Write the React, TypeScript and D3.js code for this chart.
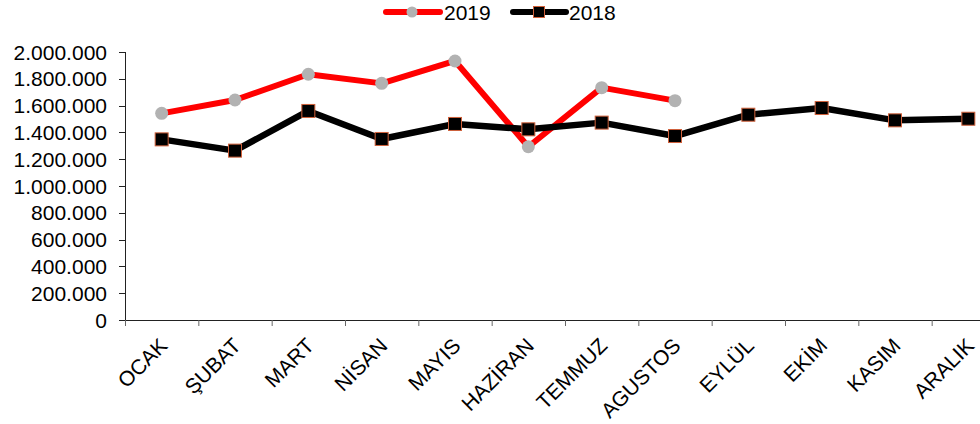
import * as d3 from 'd3';

const months = ["OCAK", "ŞUBAT", "MART", "NİSAN", "MAYIS", "HAZİRAN", "TEMMUZ", "AGUSTOS", "EYLÜL", "EKİM", "KASIM", "ARALIK"];
const values2019 = [1542000, 1642000, 1834000, 1766000, 1933000, 1293000, 1734000, 1637000];
const values2018 = [1348000, 1264000, 1560000, 1351000, 1463000, 1423000, 1473000, 1373000, 1532000, 1582000, 1490000, 1502000];
const yTicks = [0, 200000, 400000, 600000, 800000, 1000000, 1200000, 1400000, 1600000, 1800000, 2000000];

const W = 980;
const H = 424;
const font = "'Liberation Sans', Arial, sans-serif";

const App = () => {
    const x = d3.scaleBand<string>().domain(months).range([125, 1005]);
    const y = d3.scaleLinear().domain([0, 2000000]).range([320, 52]);
    const fmt = (v: number) => d3.format(",")(v).replace(/,/g, ".");

    const cx = (i: number) => (x(months[i]) as number) + x.bandwidth() / 2;

    const line = d3.line<number>()
        .x((_, i) => cx(i))
        .y(d => y(d));

    return (
        <svg width={W} height={H} style={{ position: 'absolute', left: 0, top: 0, fontFamily: font }}>
            <rect width={W} height={H} fill="#fff" />
            {/* y axis */}
            <line x1={125.5} x2={125.5} y1={y(2000000)} y2={y(0)} stroke="#222" />
            {yTicks.map(t => (
                <g key={t}>
                    <line x1={119} x2={125} y1={Math.round(y(t)) + 0.5} y2={Math.round(y(t)) + 0.5} stroke="#222" />
                    <text x={107} y={y(t)} dy="0.36em" textAnchor="end" fontSize={21} fill="#000">{fmt(t)}</text>
                </g>
            ))}
            {/* x axis */}
            <line x1={125} x2={W} y1={320.5} y2={320.5} stroke="#222" />
            {months.map((m, i) => (
                <g key={m}>
                    <line x1={(x(m) as number) + 0.5} x2={(x(m) as number) + 0.5} y1={320} y2={326} stroke="#666" />
                    <text transform={`translate(${cx(i) + 7},${347}) rotate(-45)`} textAnchor="end" fontSize={21} fill="#000">{m}</text>
                </g>
            ))}
            {/* 2019 */}
            <path d={line(values2019) || ""} fill="none" stroke="#ff0000" strokeWidth={6} strokeLinejoin="round" />
            {values2019.map((v, i) => (
                <circle key={i} cx={cx(i)} cy={y(v)} r={6.5} fill="#b2b2b2" />
            ))}
            {/* 2018 */}
            <path d={line(values2018) || ""} fill="none" stroke="#000" strokeWidth={6.5} strokeLinejoin="round" />
            {values2018.map((v, i) => (
                <rect key={i} x={cx(i) - 6.5} y={y(v) - 6.5} width={13} height={13} fill="#000" stroke="#d0603a" strokeWidth={1} />
            ))}
            {/* legend */}
            <line x1={386} x2={440} y1={12} y2={12} stroke="#ff0000" strokeWidth={6} strokeLinecap="round" />
            <circle cx={412} cy={12} r={5.5} fill="#b2b2b2" />
            <text x={444} y={19.5} fontSize={21} fill="#000">2019</text>
            <line x1={513} x2={566} y1={12} y2={12} stroke="#000" strokeWidth={6} strokeLinecap="round" />
            <rect x={533.5} y={6.5} width={11} height={11} fill="#000" stroke="#d0603a" strokeWidth={1} />
            <text x={569} y={19.5} fontSize={21} fill="#000">2018</text>
        </svg>
    );
};

export default App;
